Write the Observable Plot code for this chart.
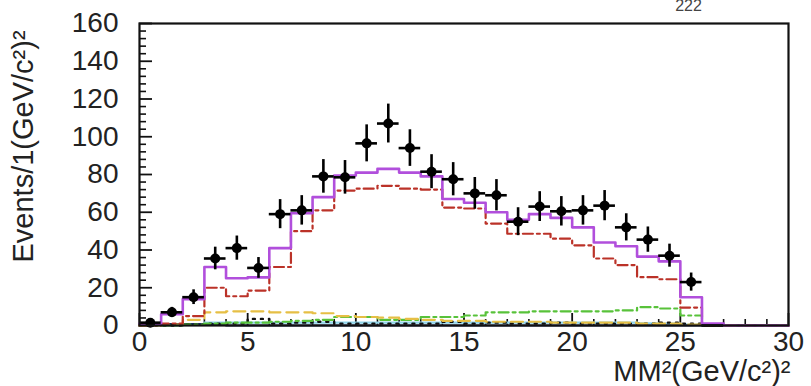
<!DOCTYPE html>
<html>
<head>
<meta charset="utf-8">
<script src="https://cdn.jsdelivr.net/npm/d3@7"></script>
<script src="https://cdn.jsdelivr.net/npm/@observablehq/plot@0.6"></script>
<style>
  html, body { margin: 0; padding: 0; background: #fff; }
  #chart { width: 811px; height: 386px; overflow: hidden; }
</style>
</head>
<body>
<div id="chart"></div>
<script>
// ---- Data ----
// histogram bins: left edges, width 1 (GeV/c^2)^2
const binLeft = [0,1,2,3,4,5,6,7,8,9,10,11,12,13,14,15,16,17,18,19,20,21,22,23,24,25,26,27,28,29];
const binWidth = 1;

// data points (bin centres, counts, vertical errors)
const dataX   = [0.5,1.5,2.5,3.5,4.5,5.5,6.5,7.5,8.5,9.5,10.5,11.5,12.5,13.5,14.5,15.5,16.5,17.5,18.5,19.5,20.5,21.5,22.5,23.5,24.5,25.5,26.5];
const dataY   = [1.5,7,15,35.5,41,30.5,59,61,79,78.5,96.5,107,94,81.5,77.5,70,69,55,63,60.5,61,63.5,52,45.5,37,23,0];
const dataErr = [1.2,2.6,3.9,6,6.4,5.5,7.7,7.8,8.9,8.9,9.8,10.3,9.7,9,8.8,8.4,8.3,7.4,7.9,7.8,7.8,8,7.2,6.7,6.1,4.8,0];

// fitted components, one value per bin
const totalFit  = [1,6,14,31,25,25.5,41,59.5,68,79.5,81,83,81,79,67,65,60,56,59,57,52,44,42,36.5,34,15,1,0,0,0];
const signalRed = [0,1,5,20,15.5,18.5,31,50,61,71.5,72.5,74,72.5,72,62.5,62,54,48.6,48.6,46,42.5,35.5,32,25.6,24.5,9.5,0,0,0,0];
const bkgYellow = [0,0.5,3,7,7.5,7.5,7,7,6.5,5,4.5,4.2,3.5,3,2.5,2.5,2,2,2,1.5,1.5,1.5,1.5,1,1,0.5,0,0,0,0];
const bkgGreen  = [0,0,0.5,1,1.5,1.5,2,2.5,3,4.5,4.5,3,3,4.5,4.5,5.3,7,7,7.5,7.5,7.5,7.5,8,9.7,9,5.3,0,0,0,0];
const bkgCyan   = [0,0,0.5,1.5,1.5,1.5,1.5,1.5,1.5,1.5,1.5,1.5,1.5,1.5,1.5,1.5,1.5,1.5,1.5,1.5,1.5,1.5,1.5,1.2,1,0.5,0,0,0,0];
const bkgDotted = [0,0,0.5,1,1,3.5,1,1.5,2,1,1,1,1,1,2,1,1.5,1,1,1.5,1,1,1,1,1.5,1,0,0,0,0];
const bkgNavy   = [0.7,0.7,0.7,0.7,0,0,0,0,0,0,0,0,0,0,0,0,0,0,0,0,0,0,0,0,0,0,0,0,0,0];

// axis ticks and labels
const xMajor = [0,5,10,15,20,25,30];
const xMinor = [1,2,3,4,6,7,8,9,11,12,13,14,16,17,18,19,21,22,23,24,26,27,28,29];
const yMajor = [0,20,40,60,80,100,120,140,160];
const yMinor = [4,8,12,16,24,28,32,36,44,48,52,56,64,68,72,76,84,88,92,96,104,108,112,116,124,128,132,136,144,148,152,156];
const yLabel = "Events/1(GeV/c²)²";
const xLabel = "MM²(GeV/c²)²";
const topText = "222";

// ---- Layout ----
const W = 811, H = 386;
const mL = 139, mT = 23, mR = 23, mB = 61;
const frameW = W - mL - mR;
const frameH = H - mT - mB;

function steps(values) {
  const pts = values.map((v, i) => ({x: binLeft[i], y: v}));
  pts.push({x: binLeft[binLeft.length - 1] + binWidth, y: values[values.length - 1]});
  return pts;
}
const points = dataX.map((x, i) => ({x, y: dataY[i], e: dataErr[i]}));

const font = "'Liberation Sans', Arial, Helvetica, sans-serif";

const chart = Plot.plot({
  width: W, height: H,
  marginLeft: mL, marginTop: mT, marginRight: mR, marginBottom: mB,
  style: {fontFamily: font, fontSize: "28px", color: "#222", background: "#fff", overflow: "hidden"},
  x: {domain: [0, 30]},
  y: {domain: [0, 160]},
  marks: [
    // axis labels (no default ticks)
    Plot.axisY({ticks: yMajor, tickSize: 0, tickPadding: 21, fontSize: 28, label: null, fill: "#222"}),
    Plot.axisX({ticks: xMajor, tickSize: 0, tickPadding: 6, fontSize: 28, label: null, fill: "#222"}),
    // inward ticks
    Plot.tickY(yMinor, {y: d => d, insetRight: frameW - 7, stroke: "#111", strokeWidth: 1.6}),
    Plot.tickY(yMajor, {y: d => d, insetRight: frameW - 13, stroke: "#111", strokeWidth: 1.8}),
    Plot.tickX(xMinor, {x: d => d, insetTop: frameH - 6, stroke: "#111", strokeWidth: 1.6}),
    Plot.tickX(xMajor, {x: d => d, insetTop: frameH - 12, stroke: "#111", strokeWidth: 1.8}),
    // components
    Plot.line(steps(bkgCyan),   {x: "x", y: "y", curve: "step-after", stroke: "#8fd4ea", strokeWidth: 2.2}),
    Plot.line(steps(bkgNavy),   {x: "x", y: "y", curve: "step-after", stroke: "#1c2a5a", strokeWidth: 2.2}),
    Plot.line(steps(bkgDotted), {x: "x", y: "y", curve: "step-after", stroke: "#111", strokeWidth: 2.4, strokeDasharray: "2,6"}),
    Plot.line(steps(bkgGreen),  {x: "x", y: "y", curve: "step-after", stroke: "#58c23a", strokeWidth: 2.2, strokeDasharray: "10,4,3,4"}),
    Plot.line(steps(bkgYellow), {x: "x", y: "y", curve: "step-after", stroke: "#e6bf45", strokeWidth: 2.2, strokeDasharray: "12,6"}),
    Plot.line(steps(signalRed), {x: "x", y: "y", curve: "step-after", stroke: "#bb3228", strokeWidth: 2.2, strokeDasharray: "10,4,3,4"}),
    Plot.line(steps(totalFit),  {x: "x", y: "y", curve: "step-after", stroke: "#b14fdc", strokeWidth: 2.6}),
    // data points with error bars
    Plot.ruleY(points, {y: "y", x1: d => d.x - binWidth / 2, x2: d => d.x + binWidth / 2, stroke: "#000", strokeWidth: 2.6}),
    Plot.ruleX(points.filter(d => d.e > 0), {x: "x", y1: d => d.y - d.e, y2: d => d.y + d.e, stroke: "#000", strokeWidth: 2.6}),
    Plot.dot(points.filter(d => d.y > 0), {x: "x", y: "y", r: 5, fill: "#000", stroke: "none"}),
    // frame
    Plot.frame({stroke: "#111", strokeWidth: 2.2}),
    // titles
    Plot.text([yLabel], {frameAnchor: "bottom-left", rotate: -90, textAnchor: "start", dx: -107, dy: -63, fontSize: 29, fill: "#222"}),
    Plot.text([xLabel], {frameAnchor: "bottom-right", textAnchor: "end", dx: 2, dy: 55, fontSize: 29, fill: "#222"}),
    Plot.text([topText], {frameAnchor: "top-left", textAnchor: "middle", dx: 549, dy: -24, fontSize: 16, fill: "#444"})
  ]
});
document.getElementById("chart").appendChild(chart);
</script>
</body>
</html>
